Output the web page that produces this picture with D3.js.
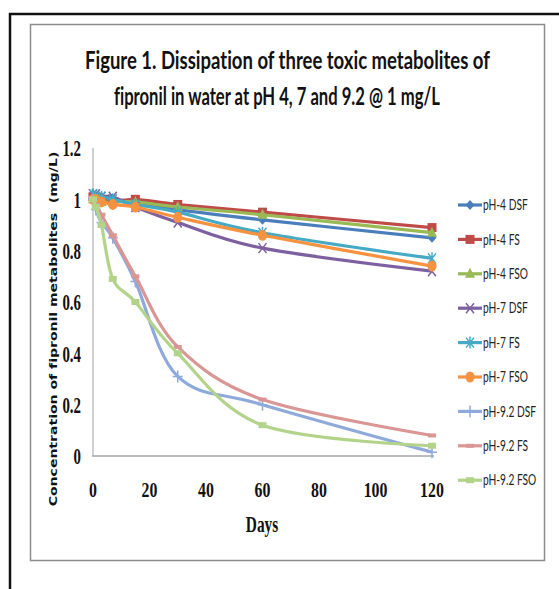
<!DOCTYPE html>
<html>
<head>
<meta charset="utf-8">
<script src="https://cdn.jsdelivr.net/npm/d3@7"></script>
<style>
  body { margin: 0; background: #fff; }
</style>
</head>
<body>
<div id="chart"></div>
<script>
// sampling days
var days = [0, 1, 3, 7, 15, 30, 60, 120];

var seriesNames = ["pH-4 DSF", "pH-4 FS", "pH-4 FSO", "pH-7 DSF", "pH-7 FS", "pH-7 FSO",
                   "pH-9.2 DSF", "pH-9.2 FS", "pH-9.2 FSO"];

// concentration (mg/L), one list per series
var ph4DSF  = [1.02, 1.01, 1.01, 1.00, 0.99, 0.96, 0.92, 0.85];
var ph4FS   = [1.01, 1.01, 1.00, 0.99, 1.00, 0.98, 0.95, 0.89];
var ph4FSO  = [1.00, 1.00, 0.99, 0.99, 0.99, 0.97, 0.94, 0.87];
var ph7DSF  = [1.02, 1.02, 1.01, 1.01, 0.97, 0.91, 0.81, 0.72];
var ph7FS   = [1.02, 1.01, 1.01, 1.00, 0.98, 0.95, 0.87, 0.77];
var ph7FSO  = [1.00, 1.00, 0.99, 0.98, 0.97, 0.93, 0.86, 0.74];
var ph92DSF = [1.00, 0.96, 0.91, 0.85, 0.68, 0.31, 0.20, 0.015];
var ph92FS  = [1.00, 0.98, 0.94, 0.86, 0.70, 0.425, 0.22, 0.08];
var ph92FSO = [1.00, 0.97, 0.90, 0.69, 0.60, 0.40, 0.12, 0.04];

var xTicks = [0, 20, 40, 60, 80, 100, 120];
var yTicks = [0, 0.2, 0.4, 0.6, 0.8, 1, 1.2];

var allValues = [ph4DSF, ph4FS, ph4FSO, ph7DSF, ph7FS, ph7FSO, ph92DSF, ph92FS, ph92FSO];
var colors = ["#4a7ebb", "#be4b48", "#98b954", "#7d60a0", "#46aac5", "#f69240",
              "#8eaadb", "#d99694", "#b3d38a"];
var markers = ["diamond", "square", "triangle", "x", "star", "circle", "plus", "dash", "bar"];

var width = 559;
var height = 589;

// set a font without the shorthand (keeps ligatures off)
function font(sel, weight, size, family) {
    sel.style("font-family", family)
        .style("font-size", size + "px")
        .style("font-weight", weight)
        .style("font-variant-ligatures", "none");
}

// squeeze text horizontally around its own x (the original picture is narrow)
function squeeze(sel, k) {
    sel.each(function() {
        var t = d3.select(this);
        var tx = +t.attr("x") || 0;
        t.attr("transform", `translate(${tx},0) scale(${k},1) translate(${-tx},0)`);
    });
}

// fit a text to a given width, starting at x
function fitTo(sel, w) {
    sel.each(function() {
        var natural = this.getComputedTextLength();
        squeeze(d3.select(this), w / natural);
    });
}

var svg = d3.select("#chart").append("svg")
    .attr("width", width)
    .attr("height", height);

// outer frame (black) and chart area (grey)
svg.append("path")
    .attr("d", "M10,600 V14 H570")
    .attr("fill", "none").attr("stroke", "#111").attr("stroke-width", 2.5);
svg.append("rect")
    .attr("x", 30.5).attr("y", 24.5).attr("width", 514).attr("height", 536)
    .attr("fill", "#fff").attr("stroke", "#8c8c8c").attr("stroke-width", 1.5);

// title
svg.append("text").attr("x", 85).attr("y", 69)
    .call(font, "bold", 25, "Lato").attr("fill", "#111")
    .text("Figure 1. Dissipation of three toxic metabolites of")
    .call(fitTo, 405);
svg.append("text").attr("x", 114).attr("y", 105)
    .call(font, "bold", 25, "Lato").attr("fill", "#111")
    .text("fipronil in water at pH 4, 7 and 9.2 @ 1 mg/L")
    .call(fitTo, 326);

// scales
var x = d3.scaleLinear().domain([0, 120]).range([93, 432]);
var y = d3.scaleLinear().domain([0, 1.2]).range([456, 148]);

// axes lines
svg.append("line").attr("x1", x(0)).attr("x2", x(0)).attr("y1", y(1.2)).attr("y2", y(0))
    .attr("stroke", "#d0d0d0").attr("stroke-width", 2);
svg.append("line").attr("x1", x(0) - 1).attr("x2", x(120) + 2).attr("y1", y(0)).attr("y2", y(0))
    .attr("stroke", "#a6a6a6").attr("stroke-width", 1.5);

// tick labels
svg.append("g").selectAll("text")
    .data(yTicks).join("text")
    .attr("x", 81).attr("y", d => y(d)).attr("dy", "0.35em")
    .attr("text-anchor", "end")
    .call(font, "bold", 24, "Liberation Serif").attr("fill", "#111")
    .text(d => +d.toFixed(1))
    .call(squeeze, 0.62);

svg.append("g").selectAll("text")
    .data(xTicks).join("text")
    .attr("x", d => x(d)).attr("y", 497)
    .attr("text-anchor", "middle")
    .call(font, "bold", 22, "Liberation Serif").attr("fill", "#111")
    .text(d => d)
    .call(squeeze, 0.72);

svg.append("text").attr("x", 262).attr("y", 532).attr("text-anchor", "middle")
    .call(font, "bold", 24, "Liberation Serif").attr("fill", "#111")
    .text("Days")
    .call(squeeze, 0.64);

// y title, stretched along its length to the reference span
var yTitle = svg.append("text")
    .attr("text-anchor", "middle")
    .call(font, "bold", 11, "DejaVu Sans").attr("fill", "#111")
    .style("white-space", "pre")
    .text("Concentration of fipronil metabolites  (mg/L)");
var yk = 355 / yTitle.node().getComputedTextLength();
yTitle.attr("transform", `translate(57,329) rotate(-90) scale(${yk},1)`);

// marker drawing
function drawMarker(g, type, color) {
    if (type === "diamond") {
        g.append("path").attr("d", "M0,-5 L4.5,0 L0,5 L-4.5,0Z").attr("fill", color);
    } else if (type === "square") {
        g.append("rect").attr("x", -4.5).attr("y", -4.5).attr("width", 9).attr("height", 9).attr("fill", color);
    } else if (type === "triangle") {
        g.append("path").attr("d", "M0,-6 L5,4 L-5,4Z").attr("fill", color);
    } else if (type === "x") {
        g.append("path").attr("d", "M-4,-5 L4,5 M-4,5 L4,-5").attr("stroke", color).attr("stroke-width", 1.5);
    } else if (type === "star") {
        g.append("path").attr("d", "M-4,-5 L4,5 M-4,5 L4,-5 M0,-6 V6").attr("stroke", color).attr("stroke-width", 1.5);
    } else if (type === "circle") {
        g.append("ellipse").attr("rx", 4.5).attr("ry", 5.5).attr("fill", color);
    } else if (type === "plus") {
        g.append("path").attr("d", "M-5,0 H5 M0,-6 V6").attr("stroke", color).attr("stroke-width", 1.5);
    } else if (type === "dash") {
        g.append("rect").attr("x", -4).attr("y", -2).attr("width", 8).attr("height", 4).attr("fill", color);
    } else if (type === "bar") {
        g.append("rect").attr("x", -4).attr("y", -3).attr("width", 8).attr("height", 6).attr("fill", color);
    }
}

var line = d3.line()
    .x(d => x(d[0]))
    .y(d => y(d[1]))
    .curve(d3.curveCardinal.tension(0));

// draw series, later series on top
allValues.forEach(function(vals, i) {
    var pts = days.map((d, j) => [d, vals[j]]);
    var g = svg.append("g");
    g.append("path")
        .attr("d", line(pts))
        .attr("fill", "none")
        .attr("stroke", colors[i])
        .attr("stroke-width", 3.2)
        .attr("stroke-linejoin", "round");
    g.selectAll("g.m").data(pts).join("g")
        .attr("class", "m")
        .attr("transform", d => `translate(${x(d[0])},${y(d[1])})`)
        .each(function() { drawMarker(d3.select(this), markers[i], colors[i]); });
});

// legend
var legend = svg.append("g");
seriesNames.forEach(function(name, i) {
    var ly = 205 + i * 34.4;
    legend.append("line").attr("x1", 458).attr("x2", 482).attr("y1", ly).attr("y2", ly)
        .attr("stroke", colors[i]).attr("stroke-width", 3.2);
    var m = legend.append("g").attr("transform", `translate(470,${ly})`);
    drawMarker(m, markers[i], colors[i]);
    legend.append("text").attr("x", 483).attr("y", ly).attr("dy", "0.35em")
        .call(font, "normal", 15, "Lato").attr("fill", "#222")
        .text(name)
        .call(squeeze, 0.68);
});
</script>
</body>
</html>
